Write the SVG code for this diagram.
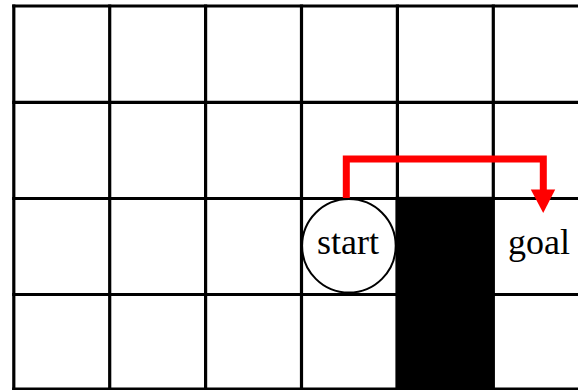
<svg xmlns="http://www.w3.org/2000/svg" width="578" height="390" viewBox="0 0 578 390">
<style>
.grid line{stroke:#000;stroke-width:3.2}
.lbl{font-family:"Liberation Serif","Times New Roman",serif;font-size:36px;fill:#000;text-anchor:middle}
.path{fill:none;stroke:#ff0000;stroke-width:7;stroke-linejoin:miter}
</style>
<rect width="578" height="390" fill="#fff"/>
<g id="grid" class="grid">
<line x1="12.2" y1="6" x2="578" y2="6"/>
<line x1="12.2" y1="102.3" x2="578" y2="102.3"/>
<line x1="12.2" y1="198.5" x2="578" y2="198.5"/>
<line x1="12.2" y1="294.5" x2="578" y2="294.5"/>
<line x1="12.2" y1="389.2" x2="578" y2="389.2"/>
<line x1="13.8" y1="4.4" x2="13.8" y2="390"/>
<line x1="109.7" y1="4.4" x2="109.7" y2="390"/>
<line x1="205.6" y1="4.4" x2="205.6" y2="390"/>
<line x1="301.5" y1="4.4" x2="301.5" y2="390"/>
<line x1="397.4" y1="4.4" x2="397.4" y2="390"/>
<line x1="493.3" y1="4.4" x2="493.3" y2="390"/>
</g>
<g id="obstacle">
<rect x="395.5" y="196.8" width="98.8" height="193.2" fill="#000"/>
</g>
<g id="start">
<circle cx="348.9" cy="245.8" r="46.8" fill="#fff" stroke="#000" stroke-width="2"/>
<text class="lbl" x="348" y="253.5">start</text>
</g>
<g id="goal">
<text class="lbl" x="539" y="253.5">goal</text>
</g>
<g id="connectors">
<polyline class="path" points="346.3,198 346.3,159 543.3,159 543.3,191"/>
<polygon points="530.8,189.5 555.2,189.5 543.2,213" fill="#ff0000"/>
</g>
</svg>
